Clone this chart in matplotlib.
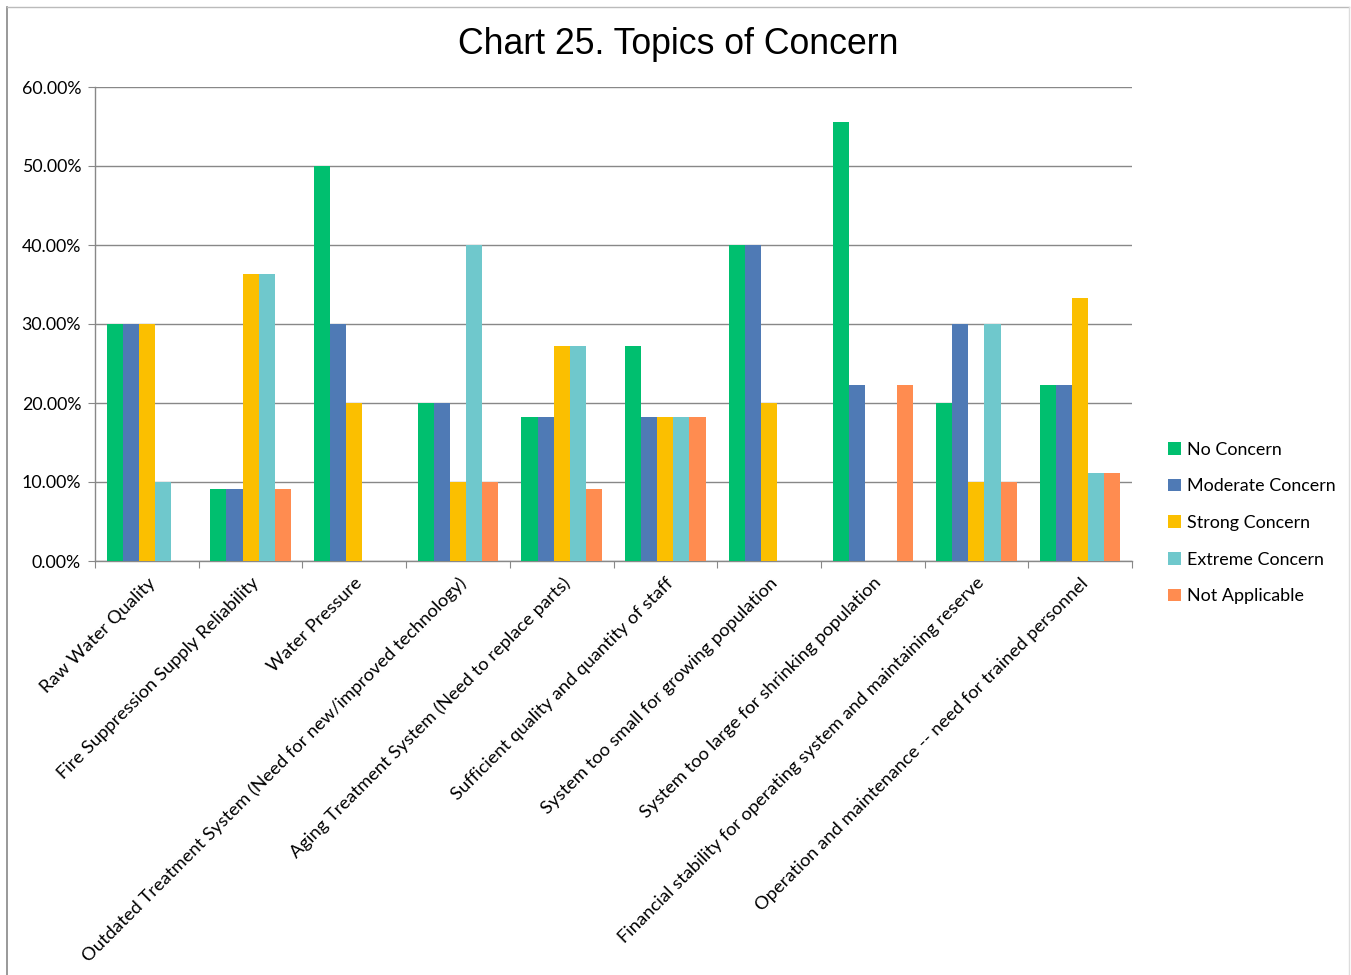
import matplotlib.pyplot as plt
import numpy as np
from matplotlib.lines import Line2D
from matplotlib.ticker import FuncFormatter

categories = [
    'Raw Water Quality',
    'Fire Suppression Supply Reliability',
    'Water Pressure',
    'Outdated Treatment System (Need for new/improved technology)',
    'Aging Treatment System (Need to replace parts)',
    'Sufficient quality and quantity of staff',
    'System too small for growing population',
    'System too large for shrinking population',
    'Financial stability for operating system and maintaining reserve',
    'Operation and maintenance -- need for trained personnel',
]
no_concern = [30.00, 9.09, 50.00, 20.00, 18.18, 27.27, 40.00, 55.56, 20.00, 22.22]
moderate = [30.00, 9.09, 30.00, 20.00, 18.18, 18.18, 40.00, 22.22, 30.00, 22.22]
strong = [30.00, 36.36, 20.00, 10.00, 27.27, 18.18, 20.00, 0.00, 10.00, 33.33]
extreme = [10.00, 36.36, 0.00, 40.00, 27.27, 18.18, 0.00, 0.00, 30.00, 11.11]
not_applicable = [0.00, 9.09, 0.00, 10.00, 9.09, 18.18, 0.00, 22.22, 10.00, 11.11]

series = [
    ('No Concern', no_concern, '#00BF6F'),
    ('Moderate Concern', moderate, '#4F7AB5'),
    ('Strong Concern', strong, '#FBBF00'),
    ('Extreme Concern', extreme, '#6FC8CC'),
    ('Not Applicable', not_applicable, '#FF8C50'),
]

label_font = 'Lato'

fig = plt.figure(figsize=(13.51, 9.75), dpi=100)
ax = fig.add_axes([95 / 1351, 1 - 561 / 975, 1037 / 1351, 474 / 975])

x = np.arange(len(categories))
w = 0.155
for i, (name, vals, col) in enumerate(series):
    ax.bar(x + (i - 2) * w, vals, w, color=col, label=name, zorder=3)

ax.set_xlim(-0.5, len(categories) - 0.5)
ax.set_ylim(0, 60)
ax.set_yticks(np.arange(0, 61, 10))
ax.yaxis.set_major_formatter(FuncFormatter(lambda v, p: f'{v:.2f}%'))
ax.grid(axis='y', color='#888888', linewidth=1.0, zorder=0)

# category boundaries as ticks
ax.set_xticks(np.arange(-0.5, len(categories) + 0.5, 1), minor=False)
ax.set_xticklabels([])
ax.set_xticks(x, minor=True)
ax.set_xticklabels(categories, minor=True, rotation=45, ha='right',
                   rotation_mode='anchor', fontsize=13.2, family=label_font)
ax.tick_params(axis='x', which='minor', length=0, pad=10)
ax.tick_params(axis='x', which='major', length=5, color='#888888')
ax.tick_params(axis='y', length=5, color='#888888', labelsize=12.8, pad=5)
for t in ax.get_yticklabels():
    t.set_family(label_font)

for s in ['top', 'right']:
    ax.spines[s].set_visible(False)
for s in ['left', 'bottom']:
    ax.spines[s].set_color('#888888')
    ax.spines[s].set_linewidth(1.0)

leg = fig.legend(loc='center left', bbox_to_anchor=(1152 / 1351, 1 - 523 / 975),
                 frameon=False, prop={'family': label_font, 'size': 12.9},
                 handlelength=0.7, handleheight=0.7, handletextpad=0.35,
                 labelspacing=1.15)

fig.text(678 / 1351, 1 - 45 / 975, 'Chart 25. Topics of Concern', ha='center',
         va='center', fontsize=25.7, family='Liberation Sans')

# outer frame
fig.add_artist(Line2D([7 / 1351, 7 / 1351], [0, 1 - 7 / 975], color='#888888', lw=1.2))
fig.add_artist(Line2D([7 / 1351, 1349 / 1351], [1 - 7 / 975, 1 - 7 / 975], color='#bbbbbb', lw=1.0))
fig.add_artist(Line2D([1349 / 1351, 1349 / 1351], [0, 1 - 7 / 975], color='#dddddd', lw=1.0))

plt.savefig('out.png', dpi=100)
